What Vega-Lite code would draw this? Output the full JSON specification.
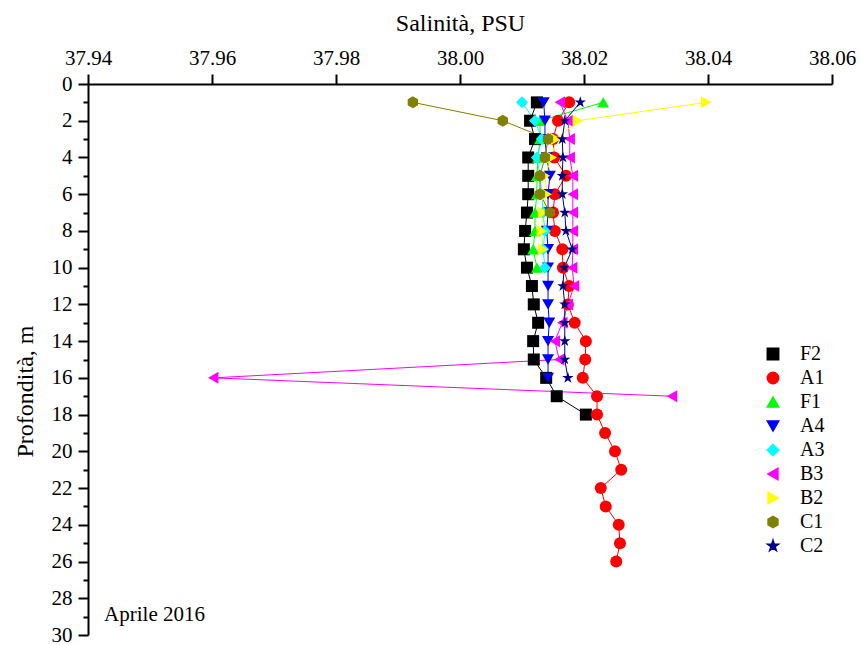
{
  "$schema": "https://vega.github.io/schema/vega-lite/v6.json",
  "width": 744,
  "height": 551,
  "autosize": {"type": "none"},
  "padding": {"left": 88, "top": 84, "right": 29, "bottom": 10},
  "background": "white",
  "config": {
    "font": "Liberation Serif",
    "view": {"stroke": null},
    "style": {"guide-label": {"font": "Liberation Serif"}, "guide-title": {"font": "Liberation Serif"}},
    "axis": {
      "domainColor": "black", "tickColor": "black", "labelColor": "black", "titleColor": "black",
      "labelFont": "Liberation Serif", "titleFont": "Liberation Serif",
      "labelFontSize": 21, "titleFontSize": 24, "titleFontWeight": "normal",
      "grid": false, "domainWidth": 2, "tickWidth": 2
    },
    "legend": {"labelFont": "Liberation Serif", "labelFontSize": 20, "labelColor": "black"}
  },
  "resolve": {"axis": {"y": "independent"}},
  "datasets": {
    "main": [
      {"s":"F2","d":1,"v":38.0124},{"s":"F2","d":2,"v":38.0113},{"s":"F2","d":3,"v":38.0121},{"s":"F2","d":4,"v":38.0110},{"s":"F2","d":5,"v":38.0110},{"s":"F2","d":6,"v":38.0110},{"s":"F2","d":7,"v":38.0108},{"s":"F2","d":8,"v":38.0105},{"s":"F2","d":9,"v":38.0103},{"s":"F2","d":10,"v":38.0108},{"s":"F2","d":11,"v":38.0116},{"s":"F2","d":12,"v":38.0119},{"s":"F2","d":13,"v":38.0126},{"s":"F2","d":14,"v":38.0118},{"s":"F2","d":15,"v":38.0119},{"s":"F2","d":16,"v":38.0139},{"s":"F2","d":17,"v":38.0156},{"s":"F2","d":18,"v":38.0203},
      {"s":"A1","d":1,"v":38.0176},{"s":"A1","d":2,"v":38.0158},{"s":"A1","d":3,"v":38.0150},{"s":"A1","d":4,"v":38.0152},{"s":"A1","d":5,"v":38.0171},{"s":"A1","d":6,"v":38.0153},{"s":"A1","d":7,"v":38.0150},{"s":"A1","d":8,"v":38.0153},{"s":"A1","d":9,"v":38.0165},{"s":"A1","d":10,"v":38.0166},{"s":"A1","d":11,"v":38.0176},{"s":"A1","d":12,"v":38.0174},{"s":"A1","d":13,"v":38.0185},{"s":"A1","d":14,"v":38.0203},{"s":"A1","d":15,"v":38.0202},{"s":"A1","d":16,"v":38.0198},{"s":"A1","d":17,"v":38.0221},{"s":"A1","d":18,"v":38.0221},{"s":"A1","d":19,"v":38.0234},{"s":"A1","d":20,"v":38.0250},{"s":"A1","d":21,"v":38.0260},{"s":"A1","d":22,"v":38.0227},{"s":"A1","d":23,"v":38.0235},{"s":"A1","d":24,"v":38.0256},{"s":"A1","d":25,"v":38.0258},{"s":"A1","d":26,"v":38.0252},
      {"s":"F1","d":1,"v":38.0231},{"s":"F1","d":2,"v":38.0129},{"s":"F1","d":3,"v":38.0129},{"s":"F1","d":4,"v":38.0126},{"s":"F1","d":5,"v":38.0124},{"s":"F1","d":6,"v":38.0124},{"s":"F1","d":7,"v":38.0121},{"s":"F1","d":8,"v":38.0121},{"s":"F1","d":9,"v":38.0118},{"s":"F1","d":10,"v":38.0124},
      {"s":"A4","d":1,"v":38.0135},{"s":"A4","d":2,"v":38.0137},{"s":"A4","d":3,"v":38.0137},{"s":"A4","d":4,"v":38.0140},{"s":"A4","d":5,"v":38.0145},{"s":"A4","d":6,"v":38.0142},{"s":"A4","d":7,"v":38.0142},{"s":"A4","d":8,"v":38.0140},{"s":"A4","d":9,"v":38.0142},{"s":"A4","d":10,"v":38.0142},{"s":"A4","d":11,"v":38.0142},{"s":"A4","d":12,"v":38.0142},{"s":"A4","d":13,"v":38.0144},{"s":"A4","d":14,"v":38.0142},{"s":"A4","d":15,"v":38.0142},{"s":"A4","d":16,"v":38.0142},
      {"s":"A3","d":1,"v":38.0100},{"s":"A3","d":2,"v":38.0121},{"s":"A3","d":3,"v":38.0132},{"s":"A3","d":4,"v":38.0124},{"s":"A3","d":5,"v":38.0129},{"s":"A3","d":6,"v":38.0132},{"s":"A3","d":7,"v":38.0134},{"s":"A3","d":8,"v":38.0137},{"s":"A3","d":9,"v":38.0134},{"s":"A3","d":10,"v":38.0137},
      {"s":"B3","d":1,"v":38.0161},{"s":"B3","d":2,"v":38.0174},{"s":"B3","d":3,"v":38.0177},{"s":"B3","d":4,"v":38.0177},{"s":"B3","d":5,"v":38.0182},{"s":"B3","d":6,"v":38.0182},{"s":"B3","d":7,"v":38.0182},{"s":"B3","d":8,"v":38.0182},{"s":"B3","d":9,"v":38.0182},{"s":"B3","d":10,"v":38.0181},{"s":"B3","d":11,"v":38.0184},{"s":"B3","d":12,"v":38.0174},{"s":"B3","d":13,"v":38.0165},{"s":"B3","d":14,"v":38.0153},{"s":"B3","d":15,"v":38.0160},{"s":"B3","d":16,"v":37.9602},{"s":"B3","d":17,"v":38.0342},
      {"s":"B2","d":1,"v":38.0397},{"s":"B2","d":2,"v":38.0190},{"s":"B2","d":3,"v":38.0155},{"s":"B2","d":4,"v":38.0148},{"s":"B2","d":5,"v":38.0137},{"s":"B2","d":6,"v":38.0140},{"s":"B2","d":7,"v":38.0134},{"s":"B2","d":8,"v":38.0132},{"s":"B2","d":9,"v":38.0134},
      {"s":"C1","d":1,"v":37.9924},{"s":"C1","d":2,"v":38.0069},{"s":"C1","d":3,"v":38.0142},{"s":"C1","d":4,"v":38.0137},{"s":"C1","d":5,"v":38.0129},{"s":"C1","d":6,"v":38.0129},{"s":"C1","d":7,"v":38.0145},
      {"s":"C2","d":1,"v":38.0194},{"s":"C2","d":2,"v":38.0169},{"s":"C2","d":3,"v":38.0165},{"s":"C2","d":4,"v":38.0166},{"s":"C2","d":5,"v":38.0165},{"s":"C2","d":6,"v":38.0165},{"s":"C2","d":7,"v":38.0169},{"s":"C2","d":8,"v":38.0171},{"s":"C2","d":9,"v":38.0181},{"s":"C2","d":10,"v":38.0168},{"s":"C2","d":11,"v":38.0166},{"s":"C2","d":12,"v":38.0169},{"s":"C2","d":13,"v":38.0169},{"s":"C2","d":14,"v":38.0169},{"s":"C2","d":15,"v":38.0169},{"s":"C2","d":16,"v":38.0174}
    ],
    "note": [{"v": 37.9426, "d": 28.9, "t": "Aprile 2016"}]
  },
  "layer": [
    {
      "data": {"name": "main"},
      "mark": {"type": "line", "strokeWidth": 1},
      "encoding": {
        "x": {
          "field": "v", "type": "quantitative",
          "scale": {"domain": [37.94, 38.06], "nice": false, "zero": false},
          "axis": {
            "orient": "top", "title": "Salinità, PSU",
            "values": [37.94, 37.96, 37.98, 38.0, 38.02, 38.04, 38.06],
            "format": ".2f", "tickSize": 10, "labelPadding": 6, "titlePadding": 12,
            "labelOverlap": false, "labelFlush": false
          }
        },
        "y": {
          "field": "d", "type": "quantitative",
          "scale": {"domain": [0, 30], "reverse": true, "nice": false, "zero": false},
          "axis": {
            "orient": "left",
            "title": "Profondità, m",
            "values": [0,2,4,6,8,10,12,14,16,18,20,22,24,26,28,30],
            "tickSize": 10, "labelPadding": 6,
            "labelOverlap": false, "labelFlush": false,
            "titleX": -63, "titleY": 307, "titleBaseline": "middle"
          }
        },
        "color": {
          "field": "s", "type": "nominal",
          "scale": {"domain": ["F2","A1","F1","A4","A3","B3","B2","C1","C2"], "range": ["#000000","#ff0000","#00ff00","#0000ff","#00ffff","#ff00ff","#ffff00","#808000","#000080"]}
        },
        "order": {"field": "d", "type": "quantitative"}
      }
    },
    {
      "data": {"name": "main"},
      "mark": {"type": "point", "filled": true, "size": 144, "opacity": 1},
      "encoding": {
        "x": {"field": "v", "type": "quantitative"},
        "y": {"field": "d", "type": "quantitative", "axis": null},
        "color": {
          "field": "s", "type": "nominal",
          "legend": {
            "orient": "none", "legendX": 675, "legendY": 260, "title": null,
            "symbolSize": 130, "labelOffset": 17, "rowPadding": 4
          }
        },
        "shape": {
          "field": "s", "type": "nominal",
          "scale": {"domain": ["F2","A1","F1","A4","A3","B3","B2","C1","C2"], "range": ["square","circle","triangle-up","triangle-down","diamond","triangle-left","triangle-right","M0,-1L0.866,-0.5L0.866,0.5L0,1L-0.866,0.5L-0.866,-0.5Z","M0,-1L0.2245,-0.309L0.951,-0.309L0.363,0.118L0.588,0.809L0,0.382L-0.588,0.809L-0.363,0.118L-0.951,-0.309L-0.2245,-0.309Z"]},
          "legend": {
            "orient": "none", "legendX": 675, "legendY": 260, "title": null,
            "symbolSize": 130, "labelOffset": 17, "rowPadding": 4
          }
        }
      }
    },
    {
      "data": {"name": "note"},
      "mark": {"type": "text", "align": "left", "baseline": "middle", "fontSize": 21, "font": "Liberation Serif", "color": "black"},
      "encoding": {
        "x": {"field": "v", "type": "quantitative"},
        "y": {
          "field": "d", "type": "quantitative",
          "axis": {
            "orient": "left", "title": null, "values": [1,3,5,7,9,11,13,15,17,19,21,23,25,27,29],
            "tickSize": 5, "labels": false, "domain": false
          }
        },
        "text": {"field": "t"}
      }
    }
  ]
}
